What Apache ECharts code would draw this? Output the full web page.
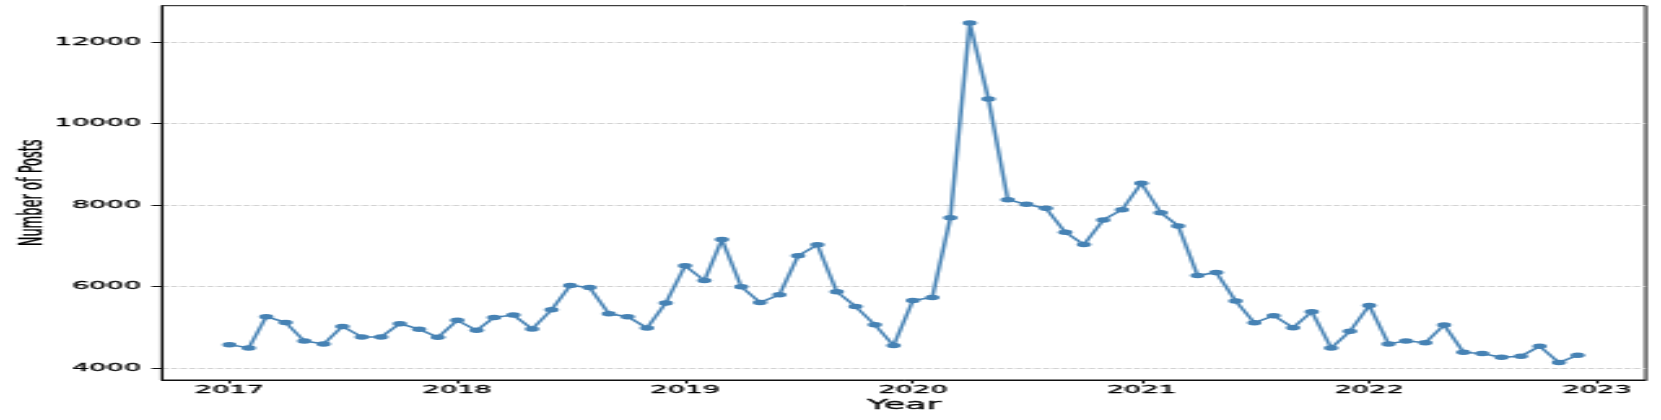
<!DOCTYPE html>
<html>
<head>
<meta charset="utf-8">
<script src="https://cdn.jsdelivr.net/npm/echarts@6/dist/echarts.min.js"></script>
<style>
html,body{margin:0;padding:0;background:#fff;overflow:hidden;width:1661px;height:420px;}
#wrap{position:absolute;left:0;top:0;width:640px;height:420px;transform:scaleX(2.5953125);transform-origin:0 0;}
#chart{width:640px;height:420px;}
</style>
</head>
<body>
<div id="wrap"><div id="chart"></div></div>
<script>
// Monthly categories (first day of each month)
const months = [
  '2017-01','2017-02','2017-03','2017-04','2017-05','2017-06','2017-07','2017-08','2017-09','2017-10','2017-11','2017-12',
  '2018-01','2018-02','2018-03','2018-04','2018-05','2018-06','2018-07','2018-08','2018-09','2018-10','2018-11','2018-12',
  '2019-01','2019-02','2019-03','2019-04','2019-05','2019-06','2019-07','2019-08','2019-09','2019-10','2019-11','2019-12',
  '2020-01','2020-02','2020-03','2020-04','2020-05','2020-06','2020-07','2020-08','2020-09','2020-10','2020-11','2020-12',
  '2021-01','2021-02','2021-03','2021-04','2021-05','2021-06','2021-07','2021-08','2021-09','2021-10','2021-11','2021-12',
  '2022-01','2022-02','2022-03','2022-04','2022-05','2022-06','2022-07','2022-08','2022-09','2022-10','2022-11','2022-12'
];
// Number of posts per month
const posts = [
  4571, 4490, 5257, 5117, 4662, 4588, 5019, 4760, 4760, 5085, 4950, 4750,
  5167, 4922, 5240, 5298, 4956, 5429, 6025, 5975, 5331, 5257, 4980, 5593,
  6507, 6147, 7152, 5993, 5608, 5796, 6752, 7022, 5870, 5510, 5061, 4547,
  5657, 5730, 7691, 12470, 10608, 8132, 8019, 7921, 7333, 7030, 7635, 7887,
  8534, 7814, 7488, 6270, 6343, 5642, 5110, 5282, 4988, 5380, 4490, 4897,
  5534, 4588, 4662, 4620, 5053, 4382, 4350, 4260, 4284, 4530, 4130, 4310
];
const xTickLabels = ['2017','2018','2019','2020','2021','2022','2023'];
const yTickValues = [4000, 6000, 8000, 10000, 12000];

// dates -> day numbers (UTC days since epoch), used on a numeric x axis
function dayNum(str){ const p = str.split('-').map(Number); return Date.UTC(p[0], (p[1]||1)-1, p[2]||1) / 86400000; }
const seriesData = months.map((m, i) => [dayNum(m), posts[i]]);
const xTicks = xTickLabels.map(y => dayNum(y + '-01-01'));
const xLabelMap = {};
xTickLabels.forEach((y, i) => { xLabelMap[xTicks[i]] = y; });

const chart = echarts.init(document.getElementById('chart'));
const font = 'DejaVu Sans';
const txt = { fontFamily: font, color: '#000', textBorderColor: '#000', textBorderWidth: 0.3 };
chart.setOption({
  animation: false,
  backgroundColor: '#fff',
  grid: {
    left: 62.4, right: 5.9, top: 5.7, bottom: 40,
    containLabel: false, outerBoundsMode: 'none',
    show: true, borderColor: '#111', borderWidth: 1, backgroundColor: 'transparent'
  },
  xAxis: {
    type: 'value',
    min: dayNum('2016-09-15'),
    max: dayNum('2023-03-20'),
    name: 'Year',
    nameLocation: 'middle',
    nameGap: 18,
    nameMoveOverlap: false,
    nameTextStyle: Object.assign({ fontSize: 13.5 }, txt),
    axisLine: { show: true, onZero: false, lineStyle: { color: '#111', width: 1 } },
    axisTick: { show: true, inside: false, length: 3.5, customValues: xTicks, lineStyle: { color: '#111', width: 1 } },
    axisLabel: Object.assign({
      customValues: xTicks, margin: 5, fontSize: 10.5,
      formatter: v => xLabelMap[v] || ''
    }, txt),
    splitLine: { show: false }
  },
  yAxis: {
    type: 'value',
    min: 3702,
    max: 12898,
    name: 'Number of Posts',
    nameLocation: 'middle',
    nameGap: 43,
    nameRotate: 90,
    nameMoveOverlap: false,
    nameTextStyle: Object.assign({ fontSize: 13 }, txt),
    axisLine: { show: true, onZero: false, lineStyle: { color: '#111', width: 1 } },
    axisTick: { show: true, inside: false, length: 4, customValues: yTickValues, lineStyle: { color: '#111', width: 1 } },
    axisLabel: Object.assign({ customValues: yTickValues, margin: 8, fontSize: 10.5, formatter: v => String(v) }, txt),
    splitLine: { show: true, lineStyle: { color: '#d2d2d2', width: 1, type: [2.5, 1] } }
  },
  series: [{
    type: 'line',
    data: seriesData,
    showSymbol: true,
    showAllSymbol: true,
    symbol: 'circle',
    symbolSize: 5.5,
    lineStyle: { color: '#4682B4', width: 1.5 },
    itemStyle: { color: '#4682B4' },
    emphasis: { disabled: true }
  }]
});
</script>
</body>
</html>
